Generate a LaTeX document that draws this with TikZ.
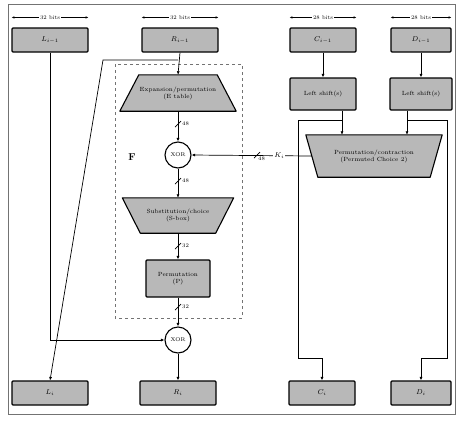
\documentclass[tikz,border=0pt]{standalone}
\usetikzlibrary{arrows.meta,calc,backgrounds}
\begin{document}
\begin{tikzpicture}[x=1pt,y=-1pt,
  box/.style={draw, line width=1.1pt, fill=black!28, rounded corners=1pt, minimum height=24pt, inner sep=1pt, font=\scriptsize},
  xorc/.style={circle, draw, line width=1.1pt, fill=white, minimum size=26pt, inner sep=0pt, font=\fontsize{5.5}{6}\selectfont},
  trap/.style={inner sep=0pt, align=center, font=\fontsize{6}{7}\selectfont},
  trapfill/.style={draw, line width=1.1pt, fill=black!28, line join=round},
  conn/.style={line width=0.7pt, -{Latex[length=3.5pt,width=3pt]}},
  plain/.style={line width=0.7pt},
  dim/.style={line width=0.6pt, {Latex[length=3pt,width=2.5pt]}-{Latex[length=3pt,width=2.5pt]}},
  lbl/.style={font=\fontsize{5.5}{6}\selectfont, inner sep=1pt}
]
\useasboundingbox (0,0) rectangle (460,421);
\draw[black!55, line width=0.8pt] (8,4) rectangle (455,414);
\draw[black!55, dashed, line width=0.7pt] (115,64) rectangle (242,318);

% input / output boxes
\node[box, minimum width=76pt] (Lp) at (50,40) {$L_{i-1}$};
\node[box, minimum width=76pt] (Rp) at (180,40) {$R_{i-1}$};
\node[box, minimum width=66pt] (Cp) at (323,40) {$C_{i-1}$};
\node[box, minimum width=60pt] (Dp) at (421,40) {$D_{i-1}$};
\node[box, minimum width=76pt] (Li) at (50,393) {$L_i$};
\node[box, minimum width=76pt] (Ri) at (178,393) {$R_i$};
\node[box, minimum width=66pt] (Ci) at (322,393) {$C_i$};
\node[box, minimum width=60pt] (Di) at (421,393) {$D_i$};

% dimension marks
\draw[dim] ([yshift=10pt]Lp.north west) -- ([yshift=10pt]Lp.north east) node[midway, fill=white, lbl] (dl) {32 bits};
\draw[dim] ([yshift=10pt]Rp.north west) -- ([yshift=10pt]Rp.north east) node[midway, fill=white, lbl] (dr) {32 bits};
\draw[dim] ([yshift=10pt]Cp.north west) -- ([yshift=10pt]Cp.north east) node[midway, fill=white, lbl] (dc) {28 bits};
\draw[dim] ([yshift=10pt]Dp.north west) -- ([yshift=10pt]Dp.north east) node[midway, fill=white, lbl] (dd) {28 bits};

% F function
\node[trap, minimum width=78pt, minimum height=36pt] (exp) at (178,93) {Expansion/permutation\\(E table)};
\node[xorc] (x1) at (178,155) {XOR};
\node[trap, minimum width=75pt, minimum height=35pt] (sb) at (178,215.5) {Substitution/choice\\(S-box)};
\node[box, minimum width=64pt, minimum height=37pt, align=center, font=\fontsize{6}{7}\selectfont] (pm) at (178,278.5) {Permutation\\(P)};
\node[xorc] (x2) at (178,340) {XOR};
\node[font=\normalsize\bfseries] (F) at (132,157) {F};

% key schedule
\node[box, minimum width=66pt, minimum height=32pt, font=\fontsize{6}{7}\selectfont] (LSC) at (323,94) {Left shift(s)};
\node[box, minimum width=62pt, minimum height=32pt, font=\fontsize{6}{7}\selectfont] (LSD) at (421,94) {Left shift(s)};
\node[trap, minimum width=112pt, minimum height=42pt] (pc) at (374,156) {Permutation/contraction\\(Permuted Choice 2)};

\begin{scope}[on background layer]
\draw[trapfill] (exp.north west) -- (exp.north east) -- ([xshift=19pt]exp.south east) -- ([xshift=-19pt]exp.south west) -- cycle;
\draw[trapfill] ([xshift=-18pt]sb.north west) -- ([xshift=18pt]sb.north east) -- (sb.south east) -- (sb.south west) -- cycle;
\draw[trapfill] ([xshift=-12pt]pc.north west) -- ([xshift=12pt]pc.north east) -- (pc.south east) -- (pc.south west) -- cycle;
\end{scope}

% connectors: data path
\coordinate (rj) at (178,60);
\coordinate (dtop) at (103,60);
\draw[conn] (Rp.south) -- (exp.north);
\draw[conn] (rj) -- (dtop) -- (Li.north);
\draw[conn] (Lp.south) |- (x2.west);
\draw[conn] (exp.south) -- (x1.north);
\draw[conn] (x1.south) -- (sb.north);
\draw[conn] (sb.south) -- (pm.north);
\draw[conn] (pm.south) -- (x2.north);
\draw[conn] (x2.south) -- (Ri.north);

% bit-width slashes
\coordinate (s1) at (178,124);
\coordinate (s2) at (178,181);
\coordinate (s3) at (178,246);
\coordinate (s4) at (178,307);
\foreach \s in {s1,s2,s3,s4} \draw[plain] (\s) +(-3,3) -- +(3,-3);
\node[lbl, right] (n1) at ($(s1)+(3,0)$) {48};
\node[lbl, right] (n2) at ($(s2)+(3,0)$) {48};
\node[lbl, right] (n3) at ($(s3)+(3,0)$) {32};
\node[lbl, right] (n4) at ($(s4)+(3,0)$) {32};

% key schedule connectors
\draw[conn] (Cp.south) -- (LSC.north);
\draw[conn] (Dp.south) -- (LSD.north);
\coordinate (jc) at (342,120);
\coordinate (jd) at (407,120);
\coordinate (cb) at (298,358);
\coordinate (db) at (447,358);
\draw[conn] ([xshift=19pt]LSC.south) -- ([xshift=19pt]LSC.south |- pc.north);
\draw[conn] ([xshift=-14pt]LSD.south) -- ([xshift=-14pt]LSD.south |- pc.north);
\draw[conn] (jc) -| (cb) -| (Ci.north);
\draw[conn] (jd) -| (db) -| (Di.north);

% round key
\draw[conn] ([xshift=-6pt]pc.west) -- (x1.east) node[pos=0.27, fill=white, inner sep=1pt, font=\scriptsize] (K) {$K_i$};
\coordinate (sk) at (257,155);
\draw[plain] (sk) +(-3,3) -- +(3,-3);
\node[lbl, below right] (nk) at ($(sk)+(0,1)$) {48};
\end{tikzpicture}
\end{document}
